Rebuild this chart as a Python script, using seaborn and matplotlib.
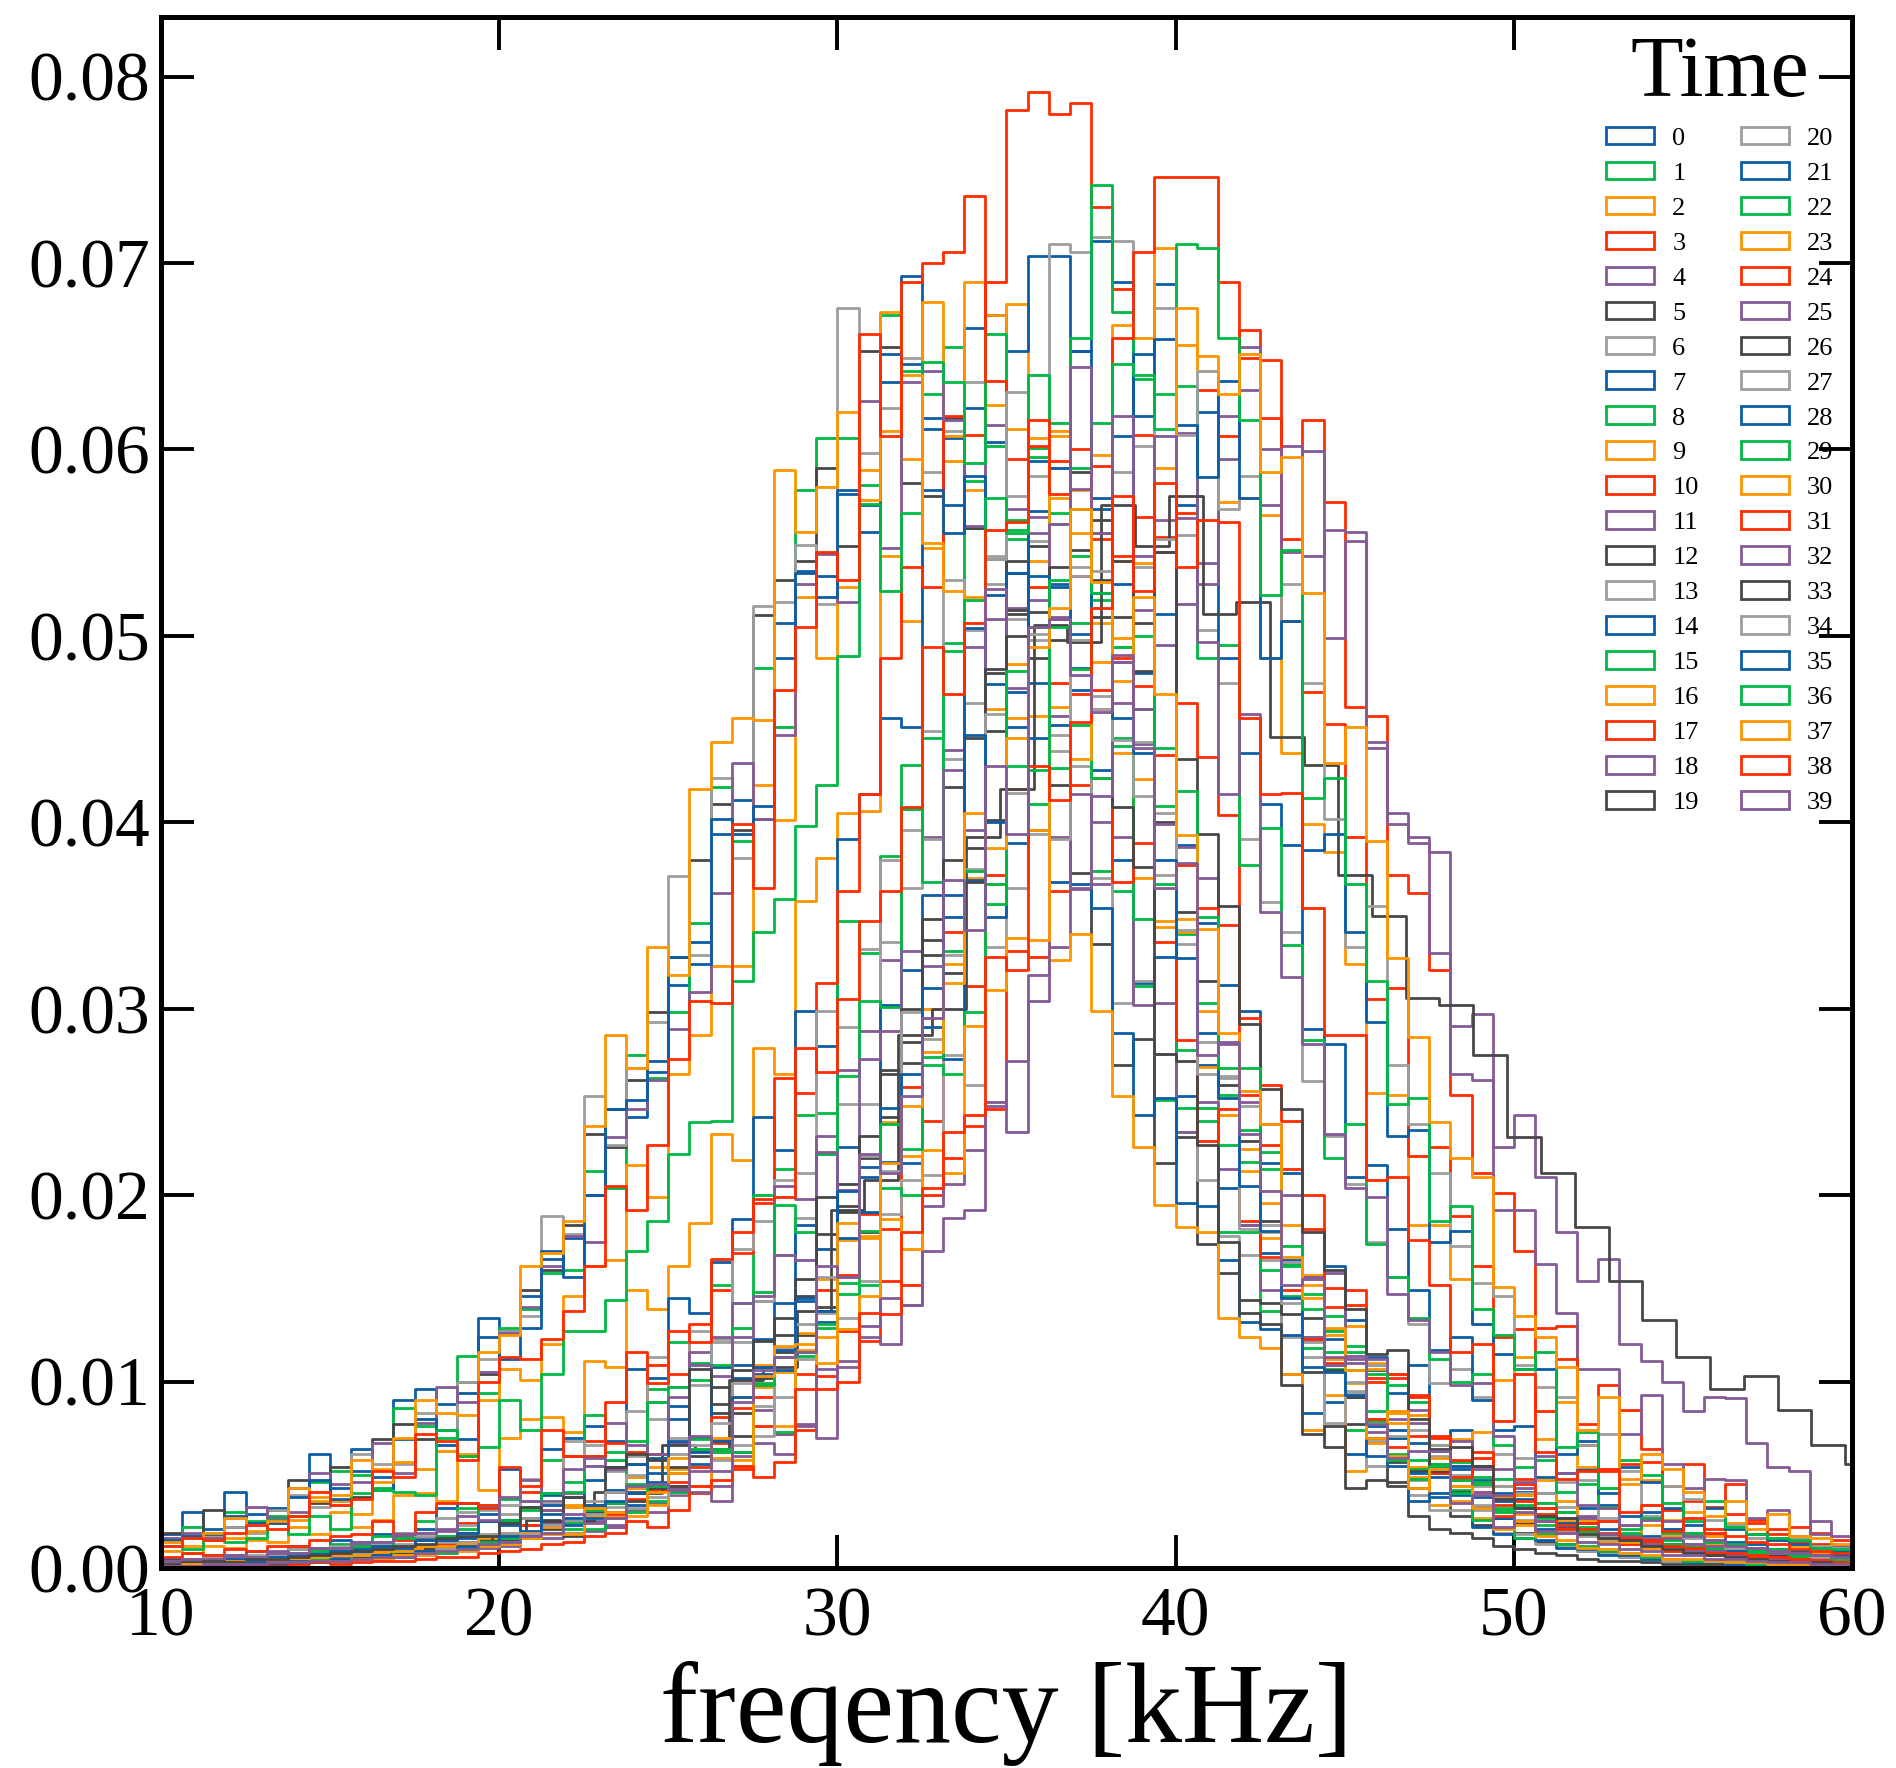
import sys
import numpy as np
import pandas as pd
import matplotlib
matplotlib.use("Agg")
import matplotlib.pyplot as plt
from matplotlib.patches import Patch
from matplotlib.ticker import FormatStrFormatter
import seaborn as sns

# ---- data: bin heights of each "Time" histogram, in units of 1e-4 ----
# fine bins: 80 bins of 0.625 kHz between 10 and 60 kHz
t00 = [18, 30, 21, 41, 29, 32, 43, 61, 43, 64, 49, 90, 96, 88, 94, 134, 126, 146, 166, 177, 200, 246, 242, 272, 313, 336, 394, 412, 402, 507, 535, 532, 576, 570, 636, 693, 611, 606, 665, 604, 534, 567, 452, 471, 428, 380, 314, 328, 253, 270, 204, 184, 169, 165, 122, 123, 92, 106, 94, 67, 49, 74, 47, 40, 41, 28, 30, 32, 21, 18, 17, 16, 13, 13, 10, 10, 8, 8, 6, 6]
t01 = [14, 22, 19, 30, 25, 28, 28, 46, 52, 50, 43, 86, 76, 70, 114, 94, 129, 139, 158, 160, 213, 204, 275, 263, 298, 346, 419, 390, 483, 451, 578, 606, 606, 581, 672, 642, 630, 655, 558, 602, 562, 505, 429, 452, 374, 363, 312, 251, 247, 240, 180, 180, 138, 146, 124, 107, 74, 109, 70, 58, 63, 42, 46, 48, 32, 27, 30, 22, 25, 19, 15, 15, 12, 12, 9, 9, 8, 7, 6, 5]
t02 = [9, 8, 12, 11, 15, 14, 22, 18, 30, 22, 26, 39, 40, 36, 60, 42, 70, 80, 81, 73, 111, 108, 149, 139, 162, 185, 233, 219, 279, 265, 358, 381, 405, 406, 543, 508, 547, 594, 578, 624, 678, 606, 574, 578, 507, 499, 423, 344, 348, 299, 243, 213, 177, 164, 152, 112, 99, 107, 78, 54, 66, 36, 45, 38, 29, 20, 25, 17, 16, 13, 12, 9, 9, 7, 7, 5, 5, 4, 3, 3]
t03 = [2, 3, 2, 4, 3, 5, 4, 6, 5, 8, 7, 9, 10, 11, 13, 13, 17, 17, 22, 19, 32, 22, 37, 42, 44, 40, 67, 53, 92, 72, 74, 103, 127, 122, 154, 152, 200, 220, 237, 246, 331, 328, 363, 420, 424, 488, 564, 545, 566, 632, 607, 664, 617, 552, 616, 572, 462, 457, 372, 362, 321, 254, 212, 201, 170, 129, 130, 77, 98, 85, 64, 44, 56, 33, 45, 26, 21, 22, 19, 15]
t04 = [1, 3, 2, 3, 2, 4, 4, 5, 4, 6, 7, 6, 9, 8, 12, 11, 12, 16, 16, 25, 20, 23, 31, 30, 43, 41, 36, 62, 67, 61, 76, 70, 108, 124, 120, 141, 170, 188, 192, 250, 234, 304, 333, 364, 367, 464, 442, 562, 517, 539, 595, 655, 570, 602, 543, 557, 556, 440, 399, 392, 330, 265, 262, 192, 192, 163, 137, 107, 107, 72, 93, 56, 43, 48, 47, 27, 31, 17, 25, 17]
t05 = [19, 17, 31, 22, 24, 31, 47, 35, 54, 38, 69, 77, 69, 74, 100, 104, 127, 149, 160, 184, 233, 226, 262, 298, 328, 380, 410, 396, 511, 530, 540, 590, 548, 653, 655, 582, 575, 617, 558, 480, 512, 396, 420, 373, 335, 270, 284, 217, 231, 174, 158, 144, 142, 104, 105, 65, 92, 80, 57, 43, 64, 41, 33, 37, 24, 25, 27, 19, 18, 15, 14, 11, 11, 9, 9, 7, 7, 5, 5, 4]
t06 = [16, 18, 17, 22, 19, 31, 39, 33, 34, 61, 56, 56, 83, 63, 100, 112, 127, 135, 189, 179, 253, 227, 268, 293, 371, 329, 424, 381, 516, 518, 549, 517, 676, 598, 622, 649, 588, 610, 636, 543, 509, 498, 438, 430, 370, 303, 315, 276, 234, 208, 178, 168, 165, 124, 113, 109, 94, 68, 84, 47, 60, 55, 44, 31, 40, 25, 33, 21, 17, 17, 16, 13, 13, 10, 10, 8, 8, 6, 6, 5]
t07 = [5, 4, 7, 6, 9, 8, 12, 11, 15, 14, 18, 19, 21, 32, 35, 29, 53, 36, 64, 70, 76, 68, 107, 102, 145, 137, 164, 187, 242, 224, 299, 280, 391, 415, 456, 451, 617, 570, 622, 672, 653, 704, 704, 653, 568, 607, 480, 512, 388, 346, 313, 299, 217, 212, 156, 162, 133, 113, 74, 109, 66, 55, 55, 36, 37, 40, 24, 21, 18, 18, 13, 13, 10, 10, 7, 7, 5, 5, 4, 3]
t08 = [3, 5, 5, 7, 6, 8, 10, 9, 13, 13, 17, 17, 25, 17, 32, 34, 37, 33, 58, 46, 82, 62, 68, 96, 121, 110, 152, 142, 200, 214, 243, 244, 347, 330, 382, 431, 445, 496, 583, 541, 557, 601, 566, 590, 519, 441, 461, 409, 340, 303, 254, 235, 223, 163, 147, 135, 116, 79, 98, 53, 66, 57, 45, 30, 39, 23, 30, 19, 18, 14, 13, 10, 10, 7, 7, 6, 5, 4, 4, 3]
t09 = [14, 12, 18, 16, 20, 24, 26, 36, 36, 29, 53, 57, 53, 63, 61, 90, 107, 101, 120, 146, 162, 165, 216, 199, 265, 286, 323, 323, 420, 401, 521, 488, 526, 589, 674, 595, 679, 607, 690, 672, 611, 540, 610, 498, 461, 437, 370, 347, 341, 269, 243, 225, 196, 184, 157, 125, 130, 110, 83, 82, 59, 69, 73, 44, 39, 47, 36, 26, 32, 17, 23, 17, 17, 13, 13, 10, 10, 8, 8, 6]
t10 = [3, 2, 4, 4, 5, 6, 6, 9, 8, 12, 11, 15, 16, 17, 24, 34, 26, 41, 31, 60, 68, 67, 62, 109, 104, 131, 149, 169, 196, 263, 255, 314, 363, 415, 488, 537, 526, 618, 608, 690, 782, 792, 780, 786, 730, 686, 608, 553, 464, 435, 404, 295, 259, 240, 200, 150, 149, 102, 102, 92, 70, 47, 59, 34, 45, 25, 20, 19, 18, 13, 13, 9, 9, 7, 6, 5, 4, 4, 3, 2]
t11 = [16, 19, 16, 27, 33, 27, 30, 51, 45, 46, 67, 51, 78, 97, 89, 105, 126, 140, 162, 178, 175, 231, 246, 262, 289, 309, 362, 432, 402, 447, 528, 544, 518, 626, 547, 636, 642, 616, 559, 613, 515, 564, 457, 415, 400, 392, 302, 303, 234, 250, 214, 184, 149, 164, 124, 113, 110, 73, 80, 85, 56, 48, 53, 39, 43, 32, 21, 28, 25, 18, 16, 16, 13, 12, 10, 10, 8, 8, 6, 6]
t12 = [1, 2, 1, 3, 2, 3, 4, 3, 5, 6, 6, 8, 8, 11, 11, 15, 15, 27, 21, 25, 33, 30, 41, 61, 51, 60, 83, 83, 108, 125, 125, 179, 191, 220, 242, 282, 329, 419, 386, 449, 514, 548, 509, 588, 510, 510, 507, 400, 352, 315, 259, 229, 186, 136, 134, 106, 77, 70, 46, 52, 51, 28, 23, 27, 19, 14, 13, 9, 9, 6, 6, 4, 4, 3, 3, 2, 2, 1, 1, 1]
t13 = [4, 3, 6, 5, 7, 7, 10, 9, 12, 13, 14, 19, 19, 27, 30, 31, 29, 48, 40, 68, 55, 58, 84, 113, 97, 127, 123, 171, 186, 208, 212, 299, 290, 332, 380, 396, 449, 530, 503, 528, 575, 551, 590, 537, 461, 494, 443, 372, 335, 282, 264, 248, 184, 164, 155, 128, 100, 109, 60, 74, 66, 50, 34, 44, 26, 35, 20, 17, 15, 15, 11, 11, 8, 8, 6, 6, 4, 4, 3, 3]
t14 = [15, 17, 18, 28, 24, 24, 38, 47, 37, 52, 42, 69, 80, 66, 69, 124, 112, 129, 170, 156, 200, 246, 251, 266, 328, 324, 402, 394, 409, 488, 534, 521, 578, 556, 651, 646, 578, 555, 586, 522, 451, 475, 368, 367, 354, 287, 243, 252, 196, 194, 165, 132, 128, 125, 83, 89, 61, 76, 70, 51, 38, 53, 38, 27, 33, 21, 22, 24, 18, 14, 14, 12, 10, 9, 9, 7, 6, 6, 5, 4]
t15 = [12, 10, 15, 14, 16, 26, 18, 28, 21, 40, 42, 41, 39, 74, 60, 65, 90, 74, 104, 127, 127, 144, 170, 186, 222, 239, 240, 315, 341, 359, 398, 420, 489, 571, 524, 566, 647, 636, 593, 662, 552, 596, 560, 507, 424, 445, 348, 367, 278, 247, 227, 218, 160, 162, 118, 127, 119, 84, 61, 89, 56, 47, 49, 32, 34, 35, 23, 20, 18, 18, 14, 13, 10, 10, 8, 8, 6, 6, 4, 4]
t16 = [14, 16, 19, 27, 23, 25, 43, 38, 39, 58, 46, 70, 90, 83, 82, 116, 125, 162, 169, 186, 237, 286, 268, 333, 318, 418, 443, 456, 455, 589, 556, 580, 620, 573, 610, 640, 550, 524, 521, 461, 456, 396, 326, 340, 299, 253, 226, 195, 183, 180, 134, 124, 118, 104, 74, 93, 52, 67, 60, 49, 34, 44, 27, 37, 23, 18, 19, 18, 14, 14, 11, 11, 9, 8, 7, 6, 5, 5, 4, 4]
t17 = [12, 16, 15, 19, 23, 21, 28, 41, 34, 37, 52, 49, 72, 68, 58, 100, 113, 112, 123, 138, 162, 205, 192, 227, 273, 304, 303, 399, 365, 471, 505, 545, 530, 662, 607, 690, 700, 706, 736, 637, 595, 602, 594, 469, 471, 368, 389, 336, 283, 229, 246, 186, 167, 149, 123, 110, 106, 80, 65, 71, 51, 58, 41, 28, 36, 32, 21, 21, 19, 15, 14, 12, 10, 9, 8, 7, 6, 5, 5, 4]
t18 = [3, 4, 4, 6, 5, 8, 7, 10, 9, 13, 12, 17, 16, 21, 19, 33, 25, 47, 36, 40, 55, 78, 56, 89, 67, 116, 124, 142, 143, 205, 198, 232, 267, 288, 326, 407, 392, 439, 494, 509, 568, 555, 510, 579, 555, 486, 461, 399, 387, 370, 281, 250, 238, 200, 156, 158, 112, 112, 104, 78, 54, 68, 41, 53, 32, 25, 27, 27, 18, 17, 13, 12, 9, 9, 7, 6, 5, 5, 4, 3]
t19 = [1, 1, 2, 2, 3, 2, 4, 3, 5, 5, 7, 6, 9, 9, 12, 12, 17, 16, 22, 17, 34, 35, 36, 43, 44, 63, 97, 71, 102, 116, 146, 140, 206, 180, 265, 271, 337, 319, 445, 401, 540, 488, 498, 546, 530, 408, 376, 276, 272, 227, 175, 137, 131, 98, 72, 76, 43, 47, 44, 28, 21, 19, 16, 12, 10, 8, 7, 5, 4, 4, 3, 2, 2, 2, 1, 1, 1, 1, 0, 1]
t20 = [3, 4, 3, 5, 6, 5, 8, 7, 10, 10, 13, 13, 17, 17, 23, 17, 34, 36, 35, 33, 66, 52, 60, 80, 70, 98, 121, 121, 143, 168, 188, 222, 249, 249, 336, 365, 391, 434, 464, 541, 631, 586, 710, 706, 714, 712, 602, 676, 554, 503, 475, 391, 357, 341, 261, 232, 206, 175, 156, 131, 99, 107, 92, 61, 59, 40, 46, 47, 27, 23, 28, 21, 16, 15, 11, 11, 9, 8, 6, 6]
t21 = [2, 3, 4, 3, 5, 6, 5, 8, 7, 10, 11, 11, 15, 15, 16, 25, 26, 23, 39, 27, 47, 54, 56, 51, 87, 70, 108, 102, 123, 142, 184, 171, 226, 215, 302, 321, 361, 361, 504, 474, 534, 594, 590, 653, 712, 690, 618, 689, 570, 620, 488, 437, 410, 388, 289, 281, 210, 216, 182, 149, 117, 124, 90, 74, 76, 49, 51, 53, 34, 28, 30, 21, 19, 18, 14, 13, 10, 9, 7, 7]
t22 = [4, 3, 5, 4, 6, 6, 8, 9, 9, 12, 12, 16, 15, 17, 21, 32, 26, 31, 40, 41, 60, 58, 49, 89, 97, 101, 109, 129, 148, 195, 180, 222, 264, 304, 301, 407, 368, 492, 519, 574, 555, 640, 614, 660, 742, 674, 638, 630, 634, 488, 495, 377, 397, 334, 283, 220, 238, 174, 156, 134, 112, 100, 104, 66, 54, 58, 41, 45, 33, 21, 27, 19, 19, 14, 13, 10, 10, 7, 7, 5]
t23 = [2, 3, 2, 3, 4, 4, 5, 6, 6, 8, 8, 10, 10, 13, 14, 16, 19, 23, 22, 33, 32, 28, 49, 54, 51, 64, 59, 92, 109, 105, 126, 155, 176, 177, 239, 221, 300, 324, 370, 367, 485, 457, 607, 555, 597, 667, 660, 708, 656, 642, 572, 574, 565, 437, 399, 384, 324, 255, 254, 184, 184, 155, 131, 101, 113, 69, 89, 54, 43, 45, 47, 26, 30, 17, 24, 16, 15, 12, 10, 9]
t24 = [2, 2, 3, 2, 4, 3, 5, 4, 6, 7, 7, 10, 9, 13, 12, 17, 16, 23, 25, 25, 29, 29, 40, 61, 46, 54, 81, 86, 76, 118, 104, 149, 157, 190, 182, 258, 240, 341, 312, 372, 418, 526, 475, 600, 552, 660, 706, 746, 746, 746, 690, 649, 648, 508, 470, 453, 392, 305, 311, 221, 226, 189, 162, 124, 128, 84, 112, 66, 52, 56, 57, 31, 36, 21, 29, 24, 18, 14, 13, 10]
t25 = [2, 3, 2, 4, 3, 4, 5, 4, 6, 7, 7, 9, 8, 11, 12, 12, 16, 16, 24, 25, 25, 22, 43, 35, 39, 52, 44, 60, 85, 72, 77, 107, 111, 130, 145, 141, 194, 206, 224, 248, 272, 318, 392, 365, 414, 486, 514, 495, 609, 528, 618, 632, 600, 545, 599, 499, 551, 443, 405, 389, 384, 291, 297, 226, 243, 210, 180, 154, 166, 120, 111, 100, 84, 92, 91, 67, 54, 52, 18, 12]
# coarse bins: 51 bins of 1 kHz starting at 9.8 kHz (the long-tailed run)
t26 = [2, 2, 3, 3, 4, 5, 7, 9, 11, 14, 18, 26, 25, 41, 40, 66, 64, 101, 108, 138, 192, 208, 286, 300, 392, 418, 506, 497, 570, 548, 575, 512, 518, 446, 431, 372, 350, 306, 302, 275, 231, 212, 183, 154, 133, 113, 96, 103, 85, 66, 56]
t27 = [3, 3, 4, 3, 5, 5, 6, 7, 7, 8, 10, 10, 12, 14, 14, 18, 19, 27, 23, 25, 36, 33, 50, 45, 40, 66, 78, 66, 87, 92, 112, 137, 134, 154, 190, 208, 211, 275, 259, 333, 365, 394, 391, 498, 468, 588, 537, 552, 608, 642, 568, 586, 488, 528, 475, 402, 333, 355, 270, 238, 212, 173, 153, 146, 109, 97, 92, 66, 72, 52, 34, 44, 37, 26, 23, 16, 16, 16, 12, 11]
t28 = [3, 4, 3, 5, 4, 6, 7, 7, 9, 9, 12, 11, 15, 15, 19, 25, 23, 20, 34, 38, 34, 42, 40, 59, 80, 62, 69, 109, 108, 106, 145, 132, 177, 191, 218, 217, 290, 273, 369, 349, 389, 445, 528, 483, 574, 528, 651, 659, 613, 585, 637, 574, 488, 508, 385, 394, 341, 293, 232, 235, 175, 181, 131, 115, 107, 107, 61, 68, 40, 54, 46, 32, 23, 32, 21, 18, 15, 13, 11, 9]
t29 = [2, 1, 3, 2, 3, 4, 3, 5, 5, 7, 6, 9, 8, 11, 12, 14, 16, 17, 19, 24, 21, 35, 45, 36, 41, 69, 64, 62, 99, 73, 114, 129, 147, 152, 204, 200, 270, 265, 298, 356, 430, 410, 505, 482, 614, 646, 640, 611, 710, 708, 660, 616, 522, 546, 413, 424, 367, 315, 249, 252, 186, 194, 139, 125, 107, 116, 65, 73, 43, 58, 50, 35, 25, 36, 22, 18, 16, 15, 11, 10]
t30 = [2, 3, 3, 4, 3, 5, 5, 6, 7, 7, 9, 9, 12, 12, 13, 17, 17, 19, 18, 34, 28, 30, 43, 34, 53, 64, 62, 58, 97, 76, 117, 110, 128, 146, 187, 171, 224, 212, 291, 310, 338, 337, 462, 434, 486, 540, 539, 590, 676, 650, 630, 651, 588, 596, 523, 432, 451, 390, 327, 285, 239, 220, 210, 151, 135, 124, 108, 74, 92, 48, 61, 53, 41, 28, 36, 21, 29, 17, 16, 13]
t31 = [6, 8, 7, 10, 9, 12, 12, 15, 17, 18, 25, 18, 30, 35, 35, 32, 54, 44, 74, 60, 60, 89, 116, 99, 127, 121, 166, 180, 198, 199, 279, 266, 305, 347, 363, 408, 494, 469, 507, 557, 561, 616, 576, 532, 591, 543, 473, 436, 377, 354, 345, 254, 227, 214, 182, 140, 141, 100, 104, 93, 71, 49, 62, 37, 48, 29, 23, 24, 25, 16, 15, 12, 11, 8, 8, 6, 6, 5, 4, 3]
t32 = [4, 5, 5, 7, 6, 9, 8, 11, 11, 14, 14, 18, 19, 20, 28, 26, 38, 36, 31, 53, 59, 53, 66, 61, 92, 109, 103, 124, 146, 168, 165, 223, 203, 273, 288, 331, 323, 428, 396, 525, 472, 519, 560, 644, 555, 618, 543, 607, 563, 497, 415, 458, 352, 317, 281, 233, 204, 199, 147, 133, 116, 98, 99, 71, 46, 60, 51, 34, 32, 23, 26, 25, 17, 15, 12, 11, 9, 8, 7, 6]
t33 = [2, 3, 4, 3, 5, 5, 6, 7, 8, 9, 10, 12, 13, 16, 17, 17, 24, 33, 25, 38, 30, 54, 61, 58, 54, 107, 88, 106, 122, 134, 155, 199, 194, 232, 267, 300, 348, 380, 368, 482, 500, 513, 537, 568, 562, 540, 481, 545, 434, 394, 355, 292, 257, 246, 180, 160, 139, 115, 117, 80, 52, 65, 55, 37, 32, 28, 27, 18, 16, 15, 12, 10, 8, 7, 6, 5, 4, 3, 3, 2]
t34 = [1, 2, 1, 2, 3, 3, 3, 4, 4, 5, 6, 7, 7, 10, 10, 13, 14, 18, 19, 19, 29, 41, 32, 38, 61, 64, 58, 99, 71, 118, 131, 156, 156, 221, 213, 298, 284, 329, 375, 458, 416, 501, 447, 532, 535, 444, 414, 405, 342, 265, 263, 182, 180, 142, 121, 78, 95, 55, 71, 39, 31, 31, 31, 19, 18, 13, 12, 9, 8, 6, 5, 4, 4, 3, 2, 2, 2, 1, 1, 1]
t35 = [1, 1, 2, 2, 3, 2, 4, 4, 5, 5, 7, 6, 9, 9, 12, 12, 17, 17, 29, 23, 27, 36, 34, 46, 68, 56, 68, 92, 104, 117, 143, 138, 202, 210, 247, 265, 311, 349, 447, 400, 470, 532, 526, 501, 523, 456, 437, 380, 327, 287, 252, 205, 181, 145, 108, 105, 93, 60, 55, 36, 40, 39, 22, 18, 16, 15, 11, 10, 7, 7, 5, 5, 3, 3, 2, 2, 2, 1, 1, 1]
t36 = [1, 1, 2, 1, 2, 3, 3, 3, 4, 5, 5, 6, 8, 8, 10, 12, 13, 16, 19, 21, 31, 27, 30, 44, 42, 64, 62, 55, 98, 113, 116, 131, 153, 181, 238, 225, 274, 331, 374, 367, 481, 428, 530, 543, 523, 494, 500, 440, 417, 349, 268, 268, 214, 173, 139, 116, 106, 104, 58, 48, 55, 40, 26, 31, 16, 18, 13, 12, 9, 8, 6, 5, 4, 4, 3, 2, 2, 2, 1, 1]
t37 = [1, 2, 1, 2, 2, 3, 3, 4, 4, 5, 5, 7, 7, 9, 9, 12, 13, 16, 19, 18, 32, 27, 28, 41, 59, 44, 70, 55, 103, 119, 120, 124, 185, 178, 217, 248, 277, 314, 405, 386, 445, 494, 515, 568, 529, 476, 521, 469, 393, 343, 287, 256, 238, 167, 145, 129, 106, 70, 84, 43, 53, 44, 32, 21, 25, 17, 15, 11, 10, 8, 7, 5, 5, 4, 3, 3, 2, 2, 1, 1]
t38 = [1, 0, 1, 1, 2, 1, 2, 3, 2, 3, 4, 4, 5, 6, 6, 8, 9, 10, 13, 14, 17, 19, 25, 22, 31, 44, 47, 55, 49, 57, 96, 96, 100, 137, 136, 180, 204, 234, 243, 328, 321, 430, 412, 454, 515, 575, 524, 582, 537, 562, 561, 456, 415, 416, 354, 286, 286, 208, 210, 176, 152, 116, 120, 79, 104, 62, 48, 52, 53, 30, 34, 20, 27, 19, 17, 14, 13, 10, 9, 8]
t39 = [1, 1, 2, 2, 2, 3, 3, 4, 4, 5, 6, 6, 8, 9, 10, 13, 14, 17, 19, 29, 24, 27, 44, 45, 42, 71, 52, 89, 106, 113, 116, 162, 156, 222, 212, 253, 295, 369, 342, 430, 394, 505, 509, 479, 459, 490, 440, 365, 378, 275, 282, 233, 202, 152, 155, 109, 114, 77, 59, 63, 63, 35, 39, 22, 30, 20, 19, 14, 13, 10, 9, 7, 7, 5, 5, 4, 3, 3, 2, 2]

series = [t00, t01, t02, t03, t04, t05, t06, t07, t08, t09,
          t10, t11, t12, t13, t14, t15, t16, t17, t18, t19,
          t20, t21, t22, t23, t24, t25, t26, t27, t28, t29,
          t30, t31, t32, t33, t34, t35, t36, t37, t38, t39]
time_labels = [str(i) for i in range(40)]
palette = ["#0C5DA5", "#00B945", "#FF9500", "#FF2C00", "#845B97", "#474747", "#9E9E9E"]

fine_edges = np.linspace(10.0, 60.0, 81)
coarse_edges = np.linspace(9.8, 60.8, 52)
special_bins = {26: coarse_edges}

# ---- style ----
sns.set_theme(style="ticks")
plt.rcParams.update({
    "axes.edgecolor": "black",
    "axes.linewidth": 1.8,
    "xtick.color": "black",
    "ytick.color": "black",
    "text.color": "black",
    "axes.labelcolor": "black",
    "axes.facecolor": "white",
    "figure.facecolor": "white",
})
plt.rcParams["font.family"] = ["Liberation Serif", "DejaVu Serif"]

fig = plt.figure(figsize=(9.48, 8.84), dpi=200)
ax = fig.add_axes([0.0849, 0.1131, 0.8919, 0.8773])

for i, vals in enumerate(series):
    edges = special_bins.get(i, fine_edges)
    centers = (edges[:-1] + edges[1:]) / 2
    n = min(len(vals), len(centers))
    if len(vals) != len(centers):
        print(f"series {i}: {len(vals)} values for {len(centers)} bins", file=sys.stderr)
    df = pd.DataFrame({"freq": centers[:n], "w": np.asarray(vals[:n], float) / 1e4})
    sns.histplot(data=df, x="freq", weights="w", bins=[float(e) for e in edges],
                 element="step", fill=False, color=palette[i % 7],
                 linewidth=1.0, ax=ax)

ax.set_xlim(10, 60)
ax.set_ylim(0, 0.0832)
ax.set_xticks([10, 20, 30, 40, 50, 60])
ax.set_yticks(np.arange(0, 0.0801, 0.01))
ax.yaxis.set_major_formatter(FormatStrFormatter("%.2f"))
ax.minorticks_off()
ax.tick_params(direction="in", length=12, width=1.4, top=True, right=True,
               labelsize=25)
ax.tick_params(axis="x", pad=7)
ax.tick_params(axis="y", pad=4)
ax.set_ylabel("")
ax.set_xlabel("freqency [kHz]", fontsize=41, labelpad=3.5)
for s in ax.spines.values():
    s.set_linewidth(1.8)
    s.set_color("black")

handles = [Patch(facecolor="none", edgecolor=palette[i % 7], linewidth=1.0, label=lab)
           for i, lab in enumerate(time_labels)]
leg = ax.legend(handles=handles, title="Time", ncol=2, loc="upper right",
                frameon=False, fontsize=9.5, title_fontsize=31,
                handlelength=1.8, handleheight=0.65, handletextpad=0.7,
                columnspacing=1.6, labelspacing=0.45, borderaxespad=0.3)

fig.savefig("out.png", dpi=200)
